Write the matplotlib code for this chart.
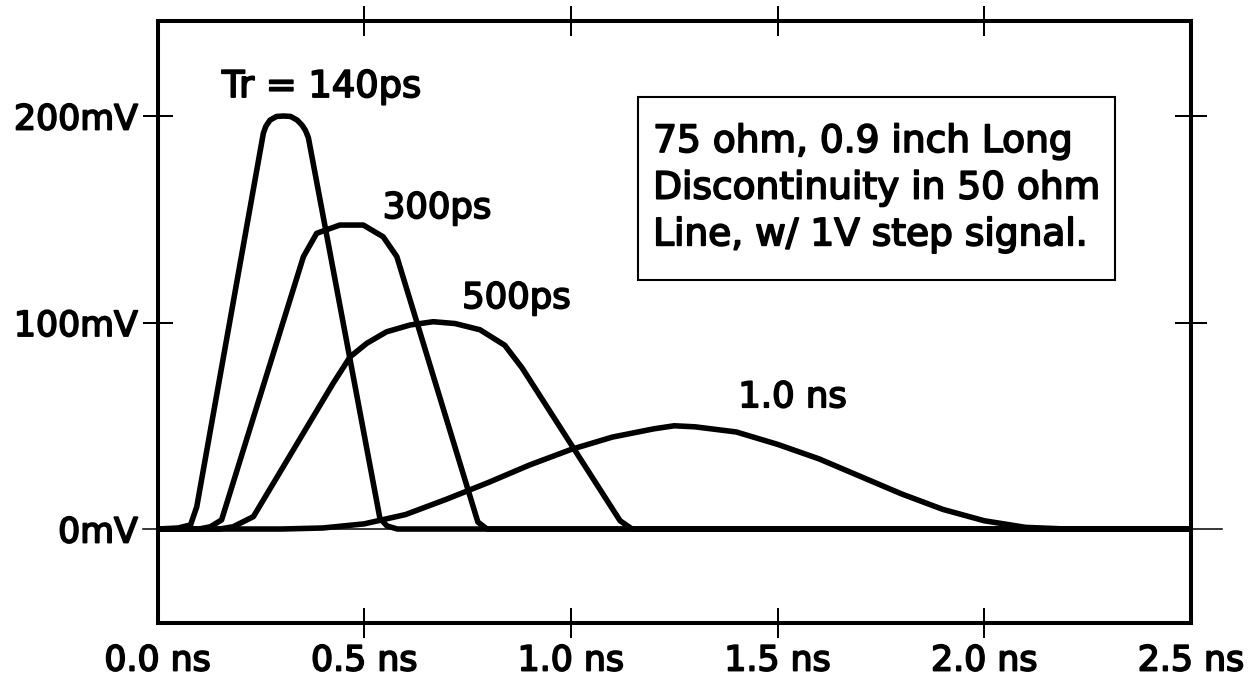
import matplotlib
matplotlib.use("Agg")
import matplotlib.pyplot as plt
import matplotlib.patheffects as pe
from matplotlib.patches import Rectangle

# Reflected waveforms from a 75 ohm, 0.9 inch discontinuity for several rise times
t_140ps = [0.0, 0.05, 0.08, 0.095, 0.256, 0.262, 0.272, 0.288, 0.305, 0.322, 0.338, 0.350, 0.358,
           0.365, 0.538, 0.555, 0.58, 2.5]
v_140ps = [0.0, 0.5, 2.0, 10.8, 191.6, 195.0, 198.0, 199.8, 200.0, 199.8, 198.0, 195.5, 193.0,
           189.5, 5.2, 1.5, 0.0, 0.0]

t_300ps = [0.0, 0.10, 0.128, 0.155, 0.353, 0.385, 0.441, 0.498, 0.546, 0.579, 0.775, 0.797, 2.5]
v_300ps = [0.0, 0.0, 1.1, 4.4, 131.9, 143.2, 147.2, 147.2, 141.5, 131.9, 3.4, 0.0, 0.0]

t_500ps = [0.0, 0.15, 0.183, 0.232, 0.425, 0.466, 0.506, 0.554, 0.611, 0.667, 0.72, 0.78, 0.84,
           0.882, 1.119, 1.148, 2.5]
v_500ps = [0.0, 0.0, 1.1, 6.0, 70.6, 83.4, 89.9, 95.5, 98.8, 100.4, 99.5, 96.5, 89.0,
           78.0, 4.0, 0.0, 0.0]

t_1ns = [0.0, 0.30, 0.40, 0.50, 0.60, 0.70, 0.80, 0.90, 1.00, 1.10, 1.20, 1.25, 1.30, 1.40,
         1.50, 1.60, 1.70, 1.80, 1.90, 2.00, 2.10, 2.20, 2.5]
v_1ns = [0.0, 0.0, 0.5, 2.5, 7.0, 14.5, 22.5, 31.0, 38.5, 44.5, 48.5, 50.0, 49.5, 47.0,
         41.0, 34.0, 25.5, 17.0, 9.5, 4.0, 0.8, 0.0, 0.0]

x_ticks = [0.0, 0.5, 1.0, 1.5, 2.0, 2.5]
x_tick_labels = ["0.0 ns", "0.5 ns", "1.0 ns", "1.5 ns", "2.0 ns", "2.5 ns"]
y_ticks = [0, 100, 200]
y_tick_labels = ["0mV", "100mV", "200mV"]

curve_labels = ["Tr = 140ps", "300ps", "500ps", "1.0 ns"]
note_lines = ["75 ohm, 0.9 inch Long", "Discontinuity in 50 ohm", "Line, w/ 1V step signal."]

FONT = "DejaVu Sans"
FS = 25
bolden = [pe.withStroke(linewidth=1.3, foreground="black")]

fig = plt.figure(figsize=(12.51, 6.81), dpi=100)
ax = fig.add_axes([0.1259, 0.0852, 0.8261, 0.8833])
ax.set_xlim(0, 2.5)
ax.set_ylim(-45.5, 245.8)

for t, v in [(t_140ps, v_140ps), (t_300ps, v_300ps), (t_500ps, v_500ps), (t_1ns, v_1ns)]:
    ax.plot(t, v, color="black", lw=4.0, solid_joinstyle="round", solid_capstyle="round", zorder=3)

# thin zero reference line running past both frame edges
ax.plot([-0.036, 2.575], [0, 0], color="black", lw=1.1, clip_on=False, zorder=2)

for s in ax.spines.values():
    s.set_linewidth(2.9)
    s.set_capstyle("projecting")

ax.set_xticks(x_ticks)
ax.set_xticklabels(x_tick_labels, family=FONT, fontsize=FS, path_effects=bolden)
ax.set_yticks(y_ticks)
ax.set_yticklabels(y_tick_labels, family=FONT, fontsize=FS, path_effects=bolden)
ax.tick_params(axis="both", direction="inout", length=21.6, width=1.45, color="black")
ax.tick_params(axis="x", top=True, pad=4.0)
ax.tick_params(axis="y", right=False, pad=3.5)

# no marks at the frame corners
for tk in (ax.xaxis.get_major_ticks()[0], ax.xaxis.get_major_ticks()[-1]):
    tk.tick1line.set_visible(False)
    tk.tick2line.set_visible(False)
ax.yaxis.get_major_ticks()[0].tick1line.set_visible(False)

# right-hand marks at 100mV and 200mV
for yv in y_ticks[1:]:
    ax.plot([2.5 - 0.037, 2.5 + 0.037], [yv, yv], color="black", lw=1.45, clip_on=False, zorder=2)

label_pos = [(0.156, 209.2), (0.545, 150.6), (0.737, 107.0), (1.405, 59.0)]
label_size = [26.5, 25.5, 25.5, 25.5]
for txt, (x, y), fs in zip(curve_labels, label_pos, label_size):
    ax.text(x, y, txt, family=FONT, fontsize=fs, va="baseline", ha="left", path_effects=bolden)

ax.add_patch(Rectangle((1.162, 120.6), 2.316 - 1.162, 209.2 - 120.6, fill=False,
                       edgecolor="black", lw=1.5, zorder=4))
for i, line in enumerate(note_lines):
    ax.text(1.199, 182.6 - i * 22.6, line, family=FONT, fontsize=27, va="baseline",
            ha="left", path_effects=bolden, zorder=5)

fig.savefig("out.png", dpi=100)
